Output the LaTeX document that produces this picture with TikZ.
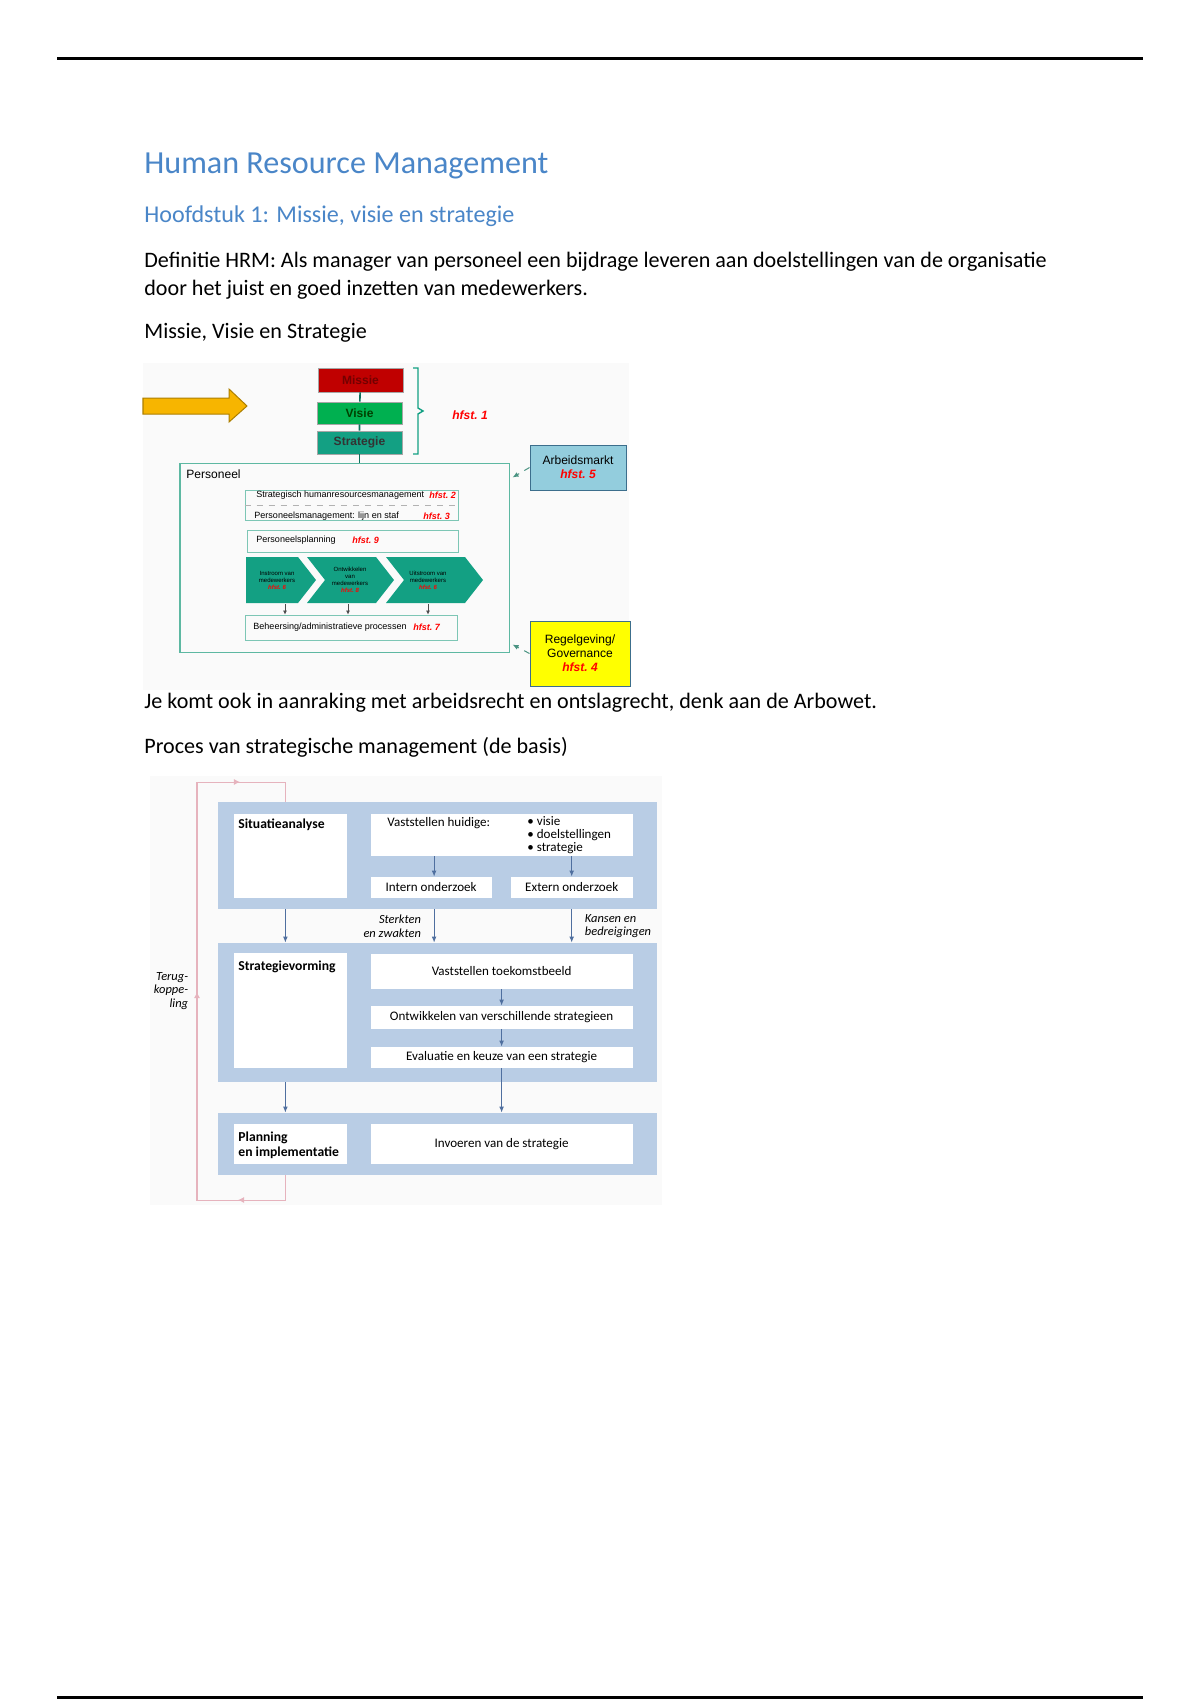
\documentclass[tikz,border=0pt]{standalone}
\usepackage{fontspec}
\setmainfont{Carlito}
\newfontfamily\arialfont{Liberation Sans}
\usetikzlibrary{arrows.meta}
\definecolor{hrmhead}{HTML}{4A86C8}
\definecolor{hrmred}{HTML}{C00000}
\definecolor{hrmgreen}{HTML}{00B050}
\definecolor{hrmteal}{HTML}{13A083}
\definecolor{hrmline}{HTML}{5DB8A2}
\definecolor{hrmsky}{HTML}{93CDDD}
\definecolor{hrmedge}{HTML}{3C6E8C}
\definecolor{hrmyellow}{HTML}{FFFF00}
\definecolor{hrmorange}{HTML}{F7B500}
\definecolor{hrmband}{HTML}{B9CDE5}
\definecolor{hrmarrow}{HTML}{4F6F9F}
\definecolor{hrmpink}{HTML}{E6B3BD}
\newcommand{\pxu}{0.0175cm}
\newcommand{\hfst}[1]{\textcolor{red}{\bfseries\itshape hfst.~#1}}

\begin{document}
\begin{tikzpicture}[x=0.0175cm,y=-0.0175cm,>=Latex,
  sz/.style 2 args={minimum width=#1*\pxu,minimum height=#2*\pxu,inner sep=0pt},
  body/.style={anchor=base west,inner sep=0pt,font=\fontsize{11}{13}\selectfont},
  mvs/.style={draw=black!35,line width=0.3pt,font=\arialfont\bfseries\fontsize{6}{7}\selectfont},
  inbox/.style={draw=hrmline!80,line width=0.4pt},
  tinytext/.style={anchor=west,inner sep=0pt,font=\arialfont\fontsize{4.5}{5}\selectfont},
  chev/.style={fill=hrmteal},
  chevtext/.style={align=center,inner sep=0pt,font=\arialfont\fontsize{3}{3.5}\selectfont},
  side/.style={draw=hrmedge,line width=0.5pt,align=center,font=\arialfont\fontsize{6}{7}\selectfont},
  sidearr/.style={dashed,->,>={Latex[length=3pt,width=2.5pt]},hrmline!80!black,line width=0.5pt},
  dn/.style={->,>={Latex[length=2pt,width=2pt]},black!70,line width=0.4pt},
  band/.style={fill=hrmband},
  wbox/.style={fill=white,font=\fontsize{6.5}{7.2}\selectfont},
  lbl/.style={anchor=west,inner sep=0pt,align=left,font=\bfseries\fontsize{6.8}{7.6}\selectfont},
  flow/.style={->,draw=hrmarrow,line width=0.5pt,>={Latex[length=3pt,width=2.4pt]}},
  fbline/.style={hrmpink,line width=0.5pt,>={Latex[length=3pt,width=3pt]}}]
% Page with the HRM notes and two pictures
\useasboundingbox (0,0) rectangle (1200,1700);
\fill[white] (0,0) rectangle (1200,1700);
\draw[line width=1.5pt] (57,58) -- (1143,58);
\draw[line width=1.5pt] (57,1697) -- (1143,1697);
\node[body,text=hrmhead,font=\fontsize{16}{19}\selectfont] (title) at (144,173) {Human Resource Management};
\node[body,text=hrmhead,font=\fontsize{12}{15}\selectfont] (sub) at (144,222) {Hoofdstuk 1: Missie, visie en strategie};
\node[body] (def1) at (144,267) {Definitie HRM: Als manager van personeel een bijdrage leveren aan doelstellingen van de organisatie};
\node[body] (def2) at (144,295) {door het juist en goed inzetten van medewerkers.};
\node[body] (mvstitle) at (144,338) {Missie, Visie en Strategie};
\node[body] (arbo) at (144,708) {Je komt ook in aanraking met arbeidsrecht en ontslagrecht, denk aan de Arbowet.};
\node[body] (proces) at (144,753) {Proces van strategische management (de basis)};

% first picture: missie, visie, strategie
\fill[black!2] (143,363) rectangle (629,690);
\draw[fill=hrmorange,draw=hrmorange!70!black,line width=0.5pt] (143,398) -- (229,398) -- (229,389) -- (247,406) -- (229,422) -- (229,414) -- (143,414) -- cycle;
\node[mvs,fill=hrmred,text=red!45!black,sz={85}{24}] (missie) at (360.5,380) {Missie};
\node[mvs,fill=hrmgreen,text=green!25!black,sz={85}{22}] (visie) at (359.5,413) {Visie};
\node[mvs,fill=hrmteal,text=black!80,sz={85}{23}] (strat) at (359.5,442.5) {Strategie};
\draw[hrmteal!70!black,line width=0.8pt] (missie) -- (visie) (visie) -- (strat);
\draw[hrmteal,line width=0.7pt] (413,368) -- (418,368) -- (418,408) -- (423,411) -- (418,414) -- (418,454) -- (413,454);
\node[font=\arialfont\fontsize{6}{7}\selectfont] (hf1) at (470,415) {\hfst{1}};
\node[draw=hrmline,line width=0.5pt,sz={329}{189}] (pers) at (344.5,557.5) {};
\draw[hrmteal!70!black,line width=0.8pt] (strat) -- (strat.south |- pers.north);
\node[anchor=west,inner sep=0pt,font=\arialfont\fontsize{6}{7}\selectfont] (perslbl) at (186,474) {Personeel};
\node[inbox,sz={213}{30}] (shrm) at (351.5,505) {};
\draw[dashed,black!30,line width=0.3pt] (shrm.west) -- (shrm.east);
\node[tinytext] (shrmtxt) at (256,495) {Strategisch humanresourcesmanagement};
\node[tinytext] (hf2) at (429,495) {\hfst{2}};
\node[tinytext] (pmtxt) at (254,516) {Personeelsmanagement: lijn en staf};
\node[tinytext] (hf3) at (423,516) {\hfst{3}};
\node[inbox,sz={211}{22}] (pplan) at (352.5,541) {};
\node[tinytext] (pplantxt) at (256,540) {Personeelsplanning};
\node[tinytext] (hf9) at (352,540) {\hfst{9}};
\fill[chev] (246,557) -- (298,557) -- (316,580) -- (298,603) -- (246,603) -- cycle;
\fill[chev] (307,557) -- (376,557) -- (394,580) -- (376,603) -- (307,603) -- (325,580) -- cycle;
\fill[chev] (386,557) -- (465,557) -- (483,580) -- (465,603) -- (386,603) -- (404,580) -- cycle;
\node[chevtext] (instroom) at (277,580) {Instroom van\\medewerkers\\\hfst{6}};
\node[chevtext] (ontwik) at (350,580) {Ontwikkelen\\van\\medewerkers\\\hfst{8}};
\node[chevtext] (uitstroom) at (428,580) {Uitstroom van\\medewerkers\\\hfst{6}};
\node[inbox,sz={212}{25}] (beh) at (351,627.5) {};
\node[tinytext] (behtxt) at (253,627) {Beheersing/administratieve processen};
\node[tinytext] (hf7) at (413,627) {\hfst{7}};
\coordinate (inb) at (285,604);
\coordinate (ontb) at (348,604);
\coordinate (uitb) at (428,604);
\draw[dn] (inb) -- (inb |- beh.north);
\draw[dn] (ontb) -- (ontb |- beh.north);
\draw[dn] (uitb) -- (uitb |- beh.north);
\node[side,fill=hrmsky,sz={96}{45}] (arb) at (578,467.5) {Arbeidsmarkt\\\hfst{5}};
\node[side,fill=hrmyellow,sz={100}{65}] (regel) at (580,653.5) {Regelgeving/\\Governance\\\hfst{4}};
\draw[sidearr] (arb.west) -- ([shift={(3,15)}]pers.north east);
\draw[sidearr] (regel.west) -- ([shift={(3,-8)}]pers.south east);

% second picture: strategic management process
\fill[black!2] (150,776) rectangle (662,1205);
\node[band,sz={439}{107}] (band1) at (437.8,855.5) {};
\node[band,sz={439}{139}] (band2) at (437.8,1012.5) {};
\node[band,sz={439}{62}] (band3) at (437.8,1144) {};
\node[wbox,sz={113}{84}] (sit) at (290,856) {};
\node[lbl] (sitlbl) at (238,825) {Situatieanalyse};
\node[wbox,sz={262}{42}] (huidig) at (501.6,835) {};
\node[anchor=west,inner sep=0pt,font=\fontsize{6.5}{7.2}\selectfont] (huidiglbl) at (387,823) {Vaststellen huidige:};
\node[anchor=north west,inner sep=0pt,align=left,font=\fontsize{6.5}{6.4}\selectfont] (bullets) at (527,816) {• visie\\• doelstellingen\\• strategie};
\node[wbox,sz={121}{21}] (intern) at (431.1,887.5) {Intern onderzoek};
\node[wbox,sz={122}{21}] (extern) at (571.7,887.5) {Extern onderzoek};
\draw[flow] ([xshift=1.5pt]intern.north |- huidig.south) -- ([xshift=1.5pt]intern.north);
\draw[flow] (extern.north |- huidig.south) -- (extern.north);
\draw[flow] ([xshift=-2.3pt]sit.south |- band1.south) -- ([xshift=-2.3pt]sit.south |- band2.north);
\draw[flow] ([xshift=1.5pt]intern.north |- band1.south) -- ([xshift=1.5pt]intern.north |- band2.north) node[midway,left=3pt,align=right,font=\itshape\fontsize{6.2}{6.7}\selectfont] {Sterkten\\en zwakten};
\draw[flow] (extern.north |- band1.south) -- (extern.north |- band2.north) node[midway,right=3pt,align=left,font=\itshape\fontsize{6.2}{6.7}\selectfont] {Kansen en\\bedreigingen};
\node[wbox,sz={113}{115}] (strvorm) at (290,1010.5) {};
\node[lbl] (strvormlbl) at (238,967) {Strategievorming};
\node[wbox,sz={262}{35}] (toek) at (501.6,971.5) {Vaststellen toekomstbeeld};
\node[wbox,sz={262}{23}] (ontw) at (501.6,1017.5) {Ontwikkelen van verschillende strategieen};
\node[wbox,sz={262}{21}] (eval) at (501.6,1057.5) {Evaluatie en keuze van een strategie};
\draw[flow] (toek) -- (ontw);
\draw[flow] (ontw) -- (eval);
\draw[flow] ([xshift=-2.3pt]strvorm.south |- band2.south) -- ([xshift=-2.3pt]strvorm.south |- band3.north);
\draw[flow] (eval.south) -- (eval.south |- band3.north);
\node[wbox,sz={113}{40}] (plan) at (290,1144) {};
\node[lbl] (planlbl) at (238,1145) {Planning\\en implementatie};
\node[wbox,sz={262}{40}] (invoer) at (501.6,1144) {Invoeren van de strategie};
\coordinate (fbx) at (285.4,782);
\coordinate (fby) at (197,1200);
\draw[fbline] (band3.south -| fbx) -- (fby -| fbx) -- (fby) -- (fbx -| fby) -- (fbx) -- (band1.north -| fbx);
\draw[fbline,->] (fby -| fbx) -- (238,1200);
\draw[fbline,->] (fby) -- (197,992);
\draw[fbline,->] (fbx -| fby) -- (240,782);
\node[align=right,inner sep=0pt,font=\itshape\fontsize{6.2}{6.6}\selectfont] (terug) at (171,991) {Terug-\\koppe-\\ling};
\end{tikzpicture}
\end{document}
